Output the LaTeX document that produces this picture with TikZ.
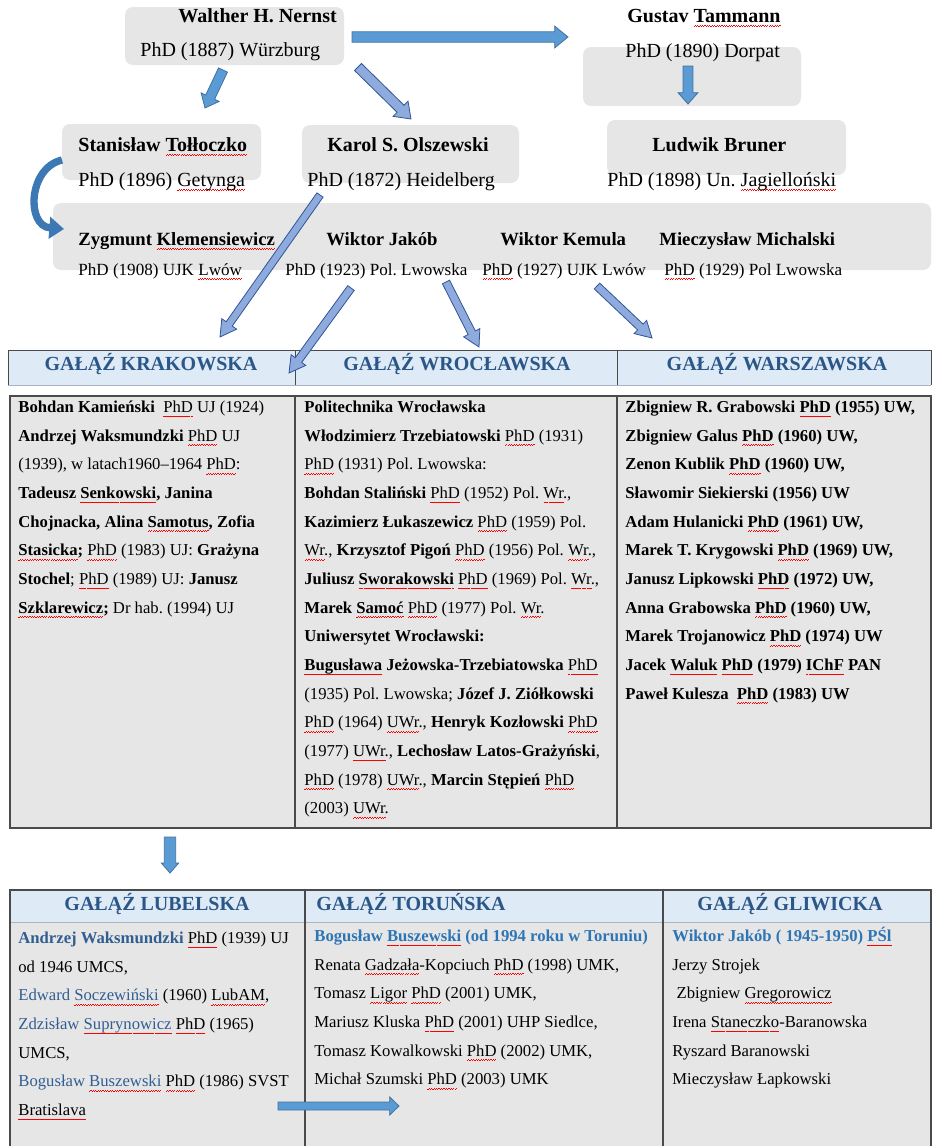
\documentclass[tikz,border=0pt]{standalone}
\usepackage{fontspec}
\setmainfont{Liberation Serif}
\usetikzlibrary{calc, arrows.meta}
\definecolor{boxgrey}{HTML}{E7E6E6}
\definecolor{headblue}{HTML}{DEEAF6}
\definecolor{headline}{HTML}{A6B4C4}
\definecolor{titleblue}{HTML}{2B5788}
\definecolor{nameblue}{HTML}{305E91}
\definecolor{brightblue}{HTML}{2E75B6}
\definecolor{arrowblue}{HTML}{5B9BD5}
\definecolor{arrowedge}{HTML}{41719C}
\definecolor{arrowlilac}{HTML}{8FAADC}
\definecolor{lilacedge}{HTML}{2F5597}
\definecolor{curveblue}{HTML}{3B78B4}
\definecolor{rulegrey}{HTML}{4A4A4A}

\newcommand{\spell}[1]{\setbox0=\hbox{#1}\rlap{\raisebox{-3.2pt}[0pt][0pt]{\textcolor{red}{\xleaders\hbox{\rule[0pt]{0.9pt}{0.35pt}\rule[0.55pt]{0.9pt}{0.35pt}}\hskip\wd0}}}#1}

% [style]{from}{to}{shaft half width}{head half width}{head length}
\newcommand{\blockarrow}[6][arrowbox]{%
  \coordinate (tip-base) at ($(#3)!#6!(#2)$);
  \filldraw[#1] ($(#2)!#4!90:(#3)$) -- ($(tip-base)!#4!90:(#3)$) -- ($(tip-base)!#5!90:(#3)$) -- (#3)
    -- ($(tip-base)!#5!-90:(#3)$) -- ($(tip-base)!#4!-90:(#3)$) -- ($(#2)!#4!-90:(#3)$) -- cycle;}

\begin{document}
\frenchspacing
\begin{tikzpicture}[x=0.75pt, y=-0.75pt, semithick,
    boxbg/.style={fill=boxgrey, rounded corners=6pt},
    who/.style={anchor=base west, inner sep=0pt, font=\fontsize{15}{18}\selectfont\bfseries},
    phd/.style={anchor=base west, inner sep=0pt, font=\fontsize{15}{18}\selectfont},
    who3/.style={anchor=base west, inner sep=0pt, font=\fontsize{14}{17}\selectfont\bfseries},
    phd3/.style={anchor=base west, inner sep=0pt, font=\fontsize{12.8}{15}\selectfont},
    branch/.style={anchor=base, inner sep=0pt, font=\fontsize{15}{18}\selectfont\bfseries, text=titleblue},
    cell/.style={anchor=north west, inner sep=0pt, align=left, font=\fontsize{12.5}{21.5}\selectfont},
    arrowbox/.style={fill=arrowblue, draw=arrowedge, line width=0.6pt},
    lilacarrow/.style={fill=arrowlilac, draw=lilacedge, line width=0.6pt},
    curvearrow/.style={draw=curveblue, line width=5.5pt, -{Triangle[length=11pt, width=16pt]}}]
  \useasboundingbox (0,0) rectangle (933,1146);

  \path[boxbg] (125,7) rectangle (344,65);
  \path[boxbg] (583,47) rectangle (801,106);
  \path[boxbg] (62,124) rectangle (261,180);
  \path[boxbg] (302,125) rectangle (519,183);
  \path[boxbg] (607,120) rectangle (846,175);
  \path[boxbg] (53,203) rectangle (931,270);

  \node[who] (N1) at (178,22) {Walther H. Nernst};
  \node[phd] (N2) at (140,56) {PhD (1887) Würzburg};
  \node[who] (T1) at (627,22) {Gustav \spell{Tammann}};
  \node[phd] (T2) at (625,57) {PhD (1890) Dorpat};
  \node[who] (TO1) at (78,151) {Stanisław \spell{Tołłoczko}};
  \node[phd] (TO2) at (78,186) {PhD (1896) \spell{Getynga}};
  \node[who] (O1) at (327,151) {Karol S. Olszewski};
  \node[phd] (O2) at (307,186) {PhD (1872) Heidelberg};
  \node[who] (B1) at (652,151) {Ludwik Bruner};
  \node[phd] (B2) at (607,186) {PhD (1898) Un. \spell{Jagielloński}};

  \node[who3] (K1) at (78,245) {Zygmunt \spell{Klemensiewicz}};
  \node[who3] (J1) at (326,245) {Wiktor Jakób};
  \node[who3] (KE1) at (500,245) {Wiktor Kemula};
  \node[who3] (M1) at (659,245) {Mieczysław Michalski};
  \node[phd3] (K2) at (78,275) {PhD (1908) UJK \spell{Lwów}};
  \node[phd3] (J2) at (285,275) {PhD (1923) Pol. Lwowska};
  \node[phd3] (KE2) at (482,275) {\spell{PhD} (1927) UJK Lwów};
  \node[phd3] (M2) at (664,275) {\spell{PhD} (1929) Pol Lwowska};

  \path[fill=headblue] (8,350) rectangle (931,385);
  \draw[headline] (8,385) -- (931,385);
  \draw[rulegrey] (8,385) -- (8,350) -- (931,350) -- (931,385);
  \draw[rulegrey] (295,350) -- (295,385) (617,350) -- (617,385);
  \filldraw[fill=boxgrey, draw=rulegrey, line width=1pt] (10,396) rectangle (931,828);
  \draw[rulegrey, line width=1pt] (295,396) -- (295,828) (617,396) -- (617,828);

  \node[branch] (KR) at (151,370) {GAŁĄŹ KRAKOWSKA};
  \node[branch] (WR) at (457,370) {GAŁĄŹ WROCŁAWSKA};
  \node[branch] (WA) at (777,370) {GAŁĄŹ WARSZAWSKA};

  \node[cell] (KRt) at (18,392) {\strut\textbf{Bohdan Kamieński}\ \ \spell{PhD} UJ (1924)\\
    \textbf{Andrzej Waksmundzki} \spell{PhD} UJ\\
    (1939), w latach1960–1964 \spell{PhD}:\\
    \textbf{Tadeusz \spell{Senkowski}, Janina}\\
    \textbf{Chojnacka, Alina \spell{Samotus}, Zofia}\\
    \textbf{\spell{Stasicka};} \spell{PhD} (1983) UJ: \textbf{Grażyna}\\
    \textbf{Stochel}; \spell{PhD} (1989) UJ: \textbf{Janusz}\\
    \textbf{\spell{Szklarewicz};} Dr hab. (1994) UJ};

  \node[cell] (WRt) at (304,392) {\strut\textbf{Politechnika Wrocławska}\\
    \textbf{Włodzimierz Trzebiatowski} \spell{PhD} (1931)\\
    \spell{PhD} (1931) Pol. Lwowska:\\
    \textbf{Bohdan Staliński} \spell{PhD} (1952) Pol. \spell{Wr}.,\\
    \textbf{Kazimierz Łukaszewicz} \spell{PhD} (1959) Pol.\\
    \spell{Wr}., \textbf{Krzysztof Pigoń} \spell{PhD} (1956) Pol. \spell{Wr}.,\\
    \textbf{Juliusz \spell{Sworakowski}} \spell{PhD} (1969) Pol. \spell{Wr}.,\\
    \textbf{Marek \spell{Samoć}} \spell{PhD} (1977) Pol. \spell{Wr}.\\
    \textbf{Uniwersytet Wrocławski:}\\
    \textbf{\spell{Bugusława} Jeżowska-Trzebiatowska} \spell{PhD}\\
    (1935) Pol. Lwowska; \textbf{Józef J. Ziółkowski}\\
    \spell{PhD} (1964) \spell{UWr}., \textbf{Henryk Kozłowski} \spell{PhD}\\
    (1977) \spell{UWr}., \textbf{Lechosław Latos-Grażyński},\\
    \spell{PhD} (1978) \spell{UWr}., \textbf{Marcin Stępień} \spell{PhD}\\
    (2003) \spell{UWr}.};

  \node[cell, font=\fontsize{12.5}{21.5}\selectfont\bfseries] (WAt) at (625,392) {\strut Zbigniew R. Grabowski \spell{PhD} (1955) UW,\\
    Zbigniew Galus \spell{PhD} (1960) UW,\\
    Zenon Kublik \spell{PhD} (1960) UW,\\
    Sławomir Siekierski (1956) UW\\
    Adam Hulanicki \spell{PhD} (1961) UW,\\
    Marek T. Krygowski \spell{PhD} (1969) UW,\\
    Janusz Lipkowski \spell{PhD} (1972) UW,\\
    Anna Grabowska \spell{PhD} (1960) UW,\\
    Marek Trojanowicz \spell{PhD} (1974) UW\\
    Jacek \spell{Waluk} \spell{PhD} (1979) \spell{IChF} PAN\\
    Paweł Kulesza\ \ \spell{PhD} (1983) UW};

  \path[fill=headblue] (10,890) rectangle (931,922);
  \path[fill=boxgrey] (10,922) rectangle (931,1150);
  \draw[headline] (10,922) -- (931,922);
  \draw[rulegrey, line width=0.9pt] (10,1150) -- (10,890) -- (931,890) -- (931,1150);
  \draw[rulegrey, line width=0.9pt] (305,890) -- (305,1150) (663,890) -- (663,1150);

  \node[branch] (LU) at (157,910) {GAŁĄŹ LUBELSKA};
  \node[branch, anchor=base west] (TR) at (316,910) {GAŁĄŹ TORUŃSKA};
  \node[branch] (GL) at (790,910) {GAŁĄŹ GLIWICKA};

  \node[cell] (LUt) at (18,923) {\strut\textbf{\color{nameblue}Andrzej Waksmundzki} \spell{PhD} (1939) UJ\\
    od 1946 UMCS,\\
    {\color{nameblue}Edward \spell{Soczewiński}} (1960) \spell{LubAM},\\
    {\color{nameblue}Zdzisław \spell{Suprynowicz}} \spell{PhD} (1965)\\
    UMCS,\\
    {\color{nameblue}Bogusław \spell{Buszewski}} \spell{PhD} (1986) SVST\\
    \spell{Bratislava}};

  \node[cell] (TRt) at (314,921) {\strut\textbf{\color{brightblue}Bogusław \spell{Buszewski} (od 1994 roku w Toruniu)}\\
    Renata \spell{Gadzała}-Kopciuch \spell{PhD} (1998) UMK,\\
    Tomasz \spell{Ligor} \spell{PhD} (2001) UMK,\\
    Mariusz Kluska \spell{PhD} (2001) UHP Siedlce,\\
    Tomasz Kowalkowski \spell{PhD} (2002) UMK,\\
    Michał Szumski \spell{PhD} (2003) UMK};

  \node[cell] (GLt) at (672,921) {\strut\textbf{\color{brightblue}Wiktor Jakób ( 1945-1950) \spell{PŚl}}\\
    Jerzy Strojek\\
    \ Zbigniew \spell{Gregorowicz}\\
    Irena \spell{Staneczko}-Baranowska\\
    Ryszard Baranowski\\
    Mieczysław Łapkowski};

  \coordinate (a1) at (352,37);  \coordinate (a2) at (568,37);
  \coordinate (b1) at (688,66);  \coordinate (b2) at (688,104);
  \coordinate (c1) at (223,70);  \coordinate (c2) at (205,108);
  \coordinate (d1) at (358,67);  \coordinate (d2) at (411,119);
  \coordinate (e1) at (320,195); \coordinate (e2) at (220,337);
  \coordinate (f1) at (351,288); \coordinate (f2) at (289,373);
  \coordinate (g1) at (446,282); \coordinate (g2) at (479,347);
  \coordinate (h1) at (597,286); \coordinate (h2) at (652,338);
  \coordinate (i1) at (170,837); \coordinate (i2) at (170,873);
  \coordinate (j1) at (278,1106); \coordinate (j2) at (399,1106);
  \coordinate (k1) at (62,160);  \coordinate (k2) at (64,229);

  \blockarrow{a1}{a2}{3.9pt}{8.2pt}{10pt}
  \blockarrow{b1}{b2}{3.7pt}{7.5pt}{8.5pt}
  \blockarrow{c1}{c2}{3.7pt}{7.5pt}{9pt}
  \blockarrow[lilacarrow]{d1}{d2}{3.7pt}{8pt}{11pt}
  \blockarrow[lilacarrow]{e1}{e2}{2.8pt}{6.8pt}{12pt}
  \blockarrow[lilacarrow]{f1}{f2}{3pt}{6.8pt}{12pt}
  \blockarrow[lilacarrow]{g1}{g2}{3pt}{6.8pt}{12pt}
  \blockarrow[lilacarrow]{h1}{h2}{3pt}{6.8pt}{12pt}
  \blockarrow{i1}{i2}{4.3pt}{6.5pt}{7.5pt}
  \blockarrow{j1}{j2}{3pt}{6.8pt}{7pt}
  \draw[curvearrow] (k1) .. controls (28,168) and (26,226) .. (k2);
\end{tikzpicture}
\end{document}
